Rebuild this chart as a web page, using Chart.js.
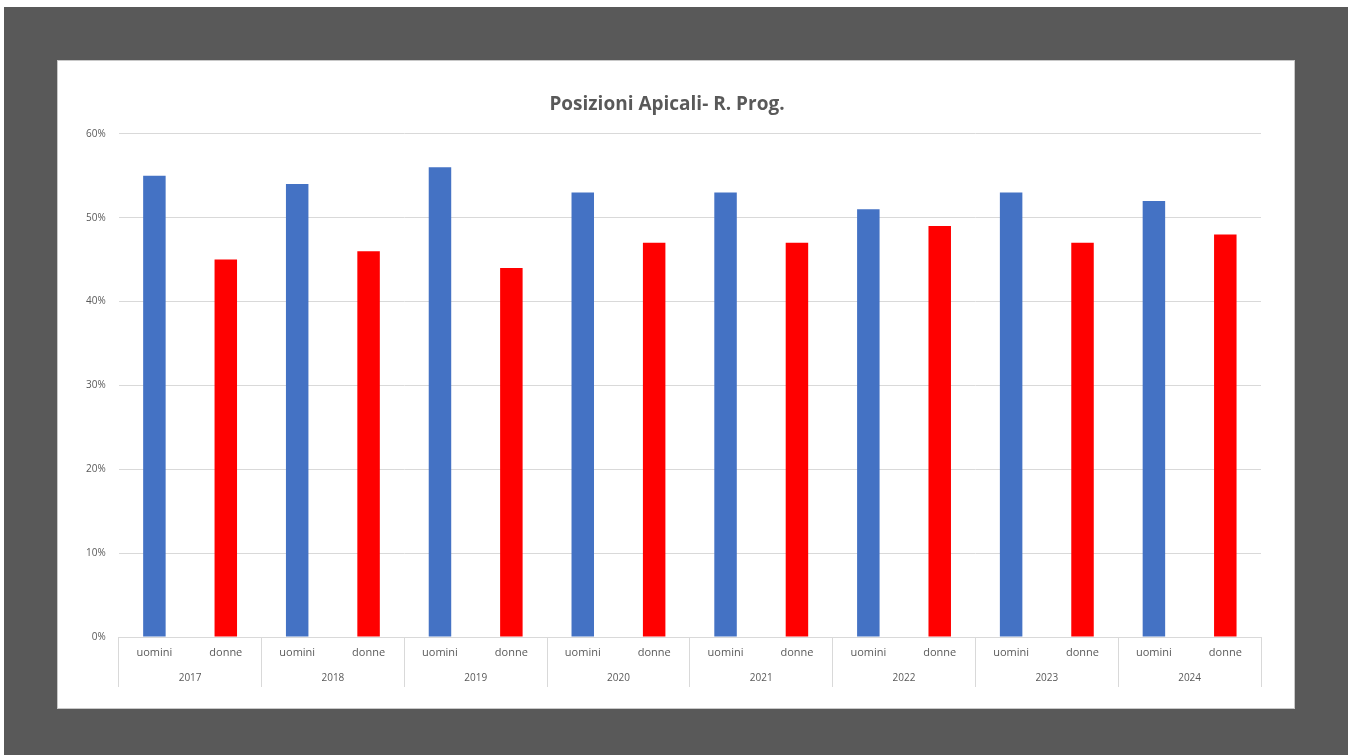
<!DOCTYPE html>
<html>
<head>
<meta charset="utf-8">
<script src="https://cdn.jsdelivr.net/npm/chart.js@4"></script>
<style>
  html, body { margin:0; padding:0; background:#fff; }
  #frame { position:absolute; left:4px; top:7px; width:1344px; height:748px; background:#595959; }
  #panel { position:absolute; left:53px; top:53px; width:1236px; height:647px; background:#fff; border:1px solid #c8c8c8; }
  #panel canvas { display:block; }
</style>
</head>
<body>
<div id="frame">
  <div id="panel"><canvas id="chart" width="1236" height="647"></canvas></div>
</div>
<script>
// data
const years = ['2017', '2018', '2019', '2020', '2021', '2022', '2023', '2024'];
const groups = ['uomini', 'donne'];
const uomini = [55, 54, 56, 53, 53, 51, 53, 52];
const donne  = [45, 46, 44, 47, 47, 49, 47, 48];
const yTicks = [0, 10, 20, 30, 40, 50, 60];

const BLUE = '#4472C4', RED = '#FF0000', TXT = '#595959', GRID = '#d9d9d9';

// flatten to one category per bar
const labels = [], values = [], colors = [];
years.forEach((y, i) => {
  labels.push(groups[0]); values.push(uomini[i]); colors.push(BLUE);
  labels.push(groups[1]); values.push(donne[i]); colors.push(RED);
});

const ctx = document.getElementById('chart').getContext('2d');
new Chart(ctx, {
  type: 'bar',
  data: {
    labels,
    datasets: [{ data: values, backgroundColor: colors, borderWidth: 0, barPercentage: 0.315, categoryPercentage: 1 }]
  },
  options: {
    responsive: false,
    animation: false,
    layout: { padding: { top: 10, left: 15, right: 33, bottom: 17 } },
    plugins: {
      legend: { display: false },
      tooltip: { enabled: false },
      title: {
        display: true,
        text: 'Posizioni Apicali- R. Prog.',
        color: TXT,
        font: { family: 'Open Sans', size: 19, weight: 'bold' },
        padding: { top: 22, bottom: 18 }
      }
    },
    scales: {
      x: {
        type: 'category',
        weight: 0,
        grid: {
          offset: true,
          drawOnChartArea: false,
          tickLength: 50,
          color: c => (c.index === undefined || c.index % 2 === 0) ? GRID : 'rgba(0,0,0,0)'
        },
        border: { display: true, color: GRID },
        ticks: { color: TXT, font: { family: 'Open Sans', size: 11 }, padding: -41, maxRotation: 0, autoSkip: false },
        afterFit: s => { s.height = 24; }
      },
      x2: {
        type: 'category',
        weight: 5,
        labels: years,
        position: 'bottom',
        grid: { display: false },
        border: { display: false },
        ticks: { color: TXT, font: { family: 'Open Sans', size: 10 }, padding: 3, maxRotation: 0 },
        afterFit: s => { s.height = 30; }
      },
      y: {
        min: 0,
        max: 60,
        afterBuildTicks: s => { s.ticks = yTicks.map(v => ({ value: v })); },
        grid: { color: GRID, drawTicks: false },
        border: { display: false },
        ticks: { color: TXT, font: { family: 'Open Sans', size: 10 }, padding: 13, callback: v => v + '%' }
      }
    }
  }
});
</script>
</body>
</html>
